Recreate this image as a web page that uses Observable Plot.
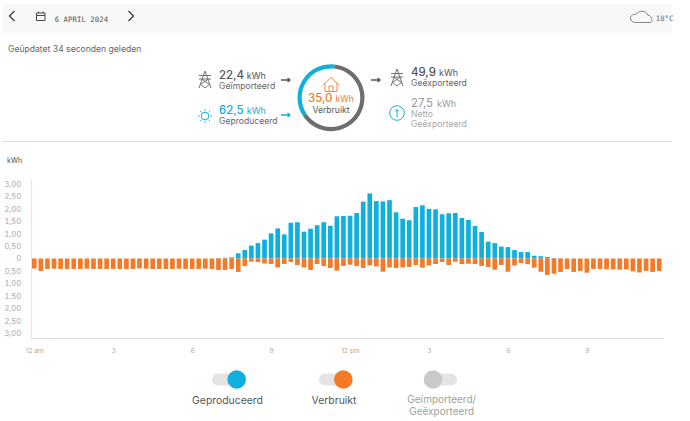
<!DOCTYPE html>
<html>
<head>
<meta charset="utf-8">
<script src="https://cdn.jsdelivr.net/npm/d3@7"></script>
<script src="https://cdn.jsdelivr.net/npm/@observablehq/plot@0.6"></script>
<style>
html,body{margin:0;padding:0;background:#fff;overflow:hidden}
#page{position:relative;width:690px;height:421px;font-family:Inter,"Open Sans",sans-serif}
#page svg{position:absolute;left:0}
</style>
</head>
<body>
<div id="page"></div>
<script>
const produced = [0,0,0,0,0,0,0,0,0,0,0,0,0,0,0,0,0,0,0,0,0,0,0,0,0,0,0,0,0.02,0.03,0.05,0.21,0.34,0.52,0.62,0.76,1.01,1.21,0.97,1.44,1.46,1.08,1.20,1.34,1.46,1.32,1.70,1.71,1.72,1.83,2.29,2.62,2.31,2.30,2.35,1.86,1.60,1.54,2.07,2.14,2.00,1.98,1.78,1.82,1.83,1.63,1.55,1.31,1.07,0.68,0.62,0.48,0.46,0.34,0.26,0.26,0.11,0.09,0.06,0.02,0.01,0,0,0,0,0,0,0,0,0,0,0,0,0,0,0];
const consumed = [0.40,0.50,0.42,0.41,0.42,0.42,0.42,0.42,0.41,0.42,0.42,0.42,0.42,0.42,0.43,0.42,0.40,0.41,0.42,0.42,0.42,0.42,0.41,0.42,0.42,0.42,0.41,0.42,0.46,0.46,0.42,0.54,0.30,0.13,0.14,0.20,0.22,0.36,0.22,0.14,0.26,0.36,0.46,0.22,0.30,0.38,0.49,0.30,0.25,0.30,0.38,0.28,0.32,0.53,0.36,0.38,0.36,0.34,0.26,0.37,0.28,0.22,0.14,0.26,0.13,0.22,0.21,0.22,0.30,0.34,0.45,0.26,0.53,0.28,0.18,0.23,0.37,0.53,0.66,0.61,0.54,0.42,0.54,0.50,0.57,0.42,0.42,0.44,0.44,0.45,0.44,0.52,0.56,0.50,0.54,0.50];
const yTicks = [-3,-2.5,-2,-1.5,-1,-0.5,0,0.5,1,1.5,2,2.5,3];
const xTicks = [0,12,24,36,48,60,72,84];
const xLabels = ["12 am","3","6","9","12 pm","3","6","9"];
const ringShares = [12.6, 22.4];

const BLUE="#10b0dc", ORANGE="#f47a27";
const rows = produced.map((v,i)=>({i,produced:v,consumed:consumed[i]}));
const fmtY = v => v===0 ? "0" : Math.abs(v).toFixed(2).replace(".",",");

const chart = Plot.plot({
  width:690, height:210,
  marginLeft:31, marginRight:27.5, marginTop:30, marginBottom:22,
  style:{background:"transparent",fontFamily:"Inter,'Open Sans',sans-serif"},
  x:{type:"band",domain:d3.range(96),paddingInner:0.29,paddingOuter:0.145,axis:null},
  y:{domain:[-3.2,3.16],axis:null},
  marks:[
    Plot.frame({anchor:"left",stroke:"#e6e6e6",strokeWidth:1.2}),
    Plot.frame({anchor:"bottom",stroke:"#dcdcdc",strokeWidth:1.2}),
    Plot.axisY({ticks:yTicks,tickSize:0,tickPadding:0,dx:-10.5,tickFormat:fmtY,fontSize:7.5,fill:"#a8a8a8",label:null,lineAnchor:"middle"}),
    Plot.axisX({ticks:xTicks,tickSize:0,tickPadding:10,tickFormat:d=>xLabels[xTicks.indexOf(d)],fontSize:6.5,fill:"#a8a8a8",label:null}),
    Plot.barY(rows,{x:"i",y1:0,y2:"produced",fill:BLUE}),
    Plot.barY(rows,{x:"i",y1:0,y2:d=>-d.consumed,fill:ORANGE})
  ]
});
chart.style.top="150px";

const page=d3.select("#page");
const s=page.append("svg").attr("width",690).attr("height",421).style("top","0px");
s.append("rect").attr("x",3).attr("y",4).attr("width",669).attr("height",29).attr("fill","#f8f8f8");
s.append("rect").attr("x",2).attr("y",141).attr("width",670).attr("height",1).attr("fill","#dedede");
page.node().appendChild(chart);

function T(x,y,t,o={}){
  return s.append("text").attr("x",x).attr("y",y).text(t)
    .attr("font-size",o.size||8.5).attr("fill",o.fill||"#666")
    .attr("font-weight",o.weight||400).attr("text-anchor",o.anchor||"start")
    .attr("font-family",o.family||"Inter,'Open Sans',sans-serif");
}
const P=(d,o={})=>s.append("path").attr("d",d).attr("fill",o.fill||"none").attr("stroke",o.stroke||"#555").attr("stroke-width",o.w||1);
const MONO="'DejaVu Sans Mono',monospace";

// top bar
T(54.7,21.5,"6 APRIL 2024",{family:MONO,size:7.4,fill:"#555"});
T(655.7,21,"18°C",{family:MONO,size:7.4,fill:"#666"});
P("M14.5 11 L9.5 16 L14.5 21",{stroke:"#333",w:1.2});
P("M128.5 11 L133.5 16 L128.5 21",{stroke:"#333",w:1.2});
P("M36.5 13 H45 V20.5 H36.5 Z M36.5 15.5 H45 M38.5 11.5 V13 M43 11.5 V13",{stroke:"#444",w:1});
P("M636 22.5 H650 C654 22.5 651 14 648 15.5 C647 11 639 9.5 636.5 14 C632 14 629 17 631 20 C632 22 634 22.5 636 22.5 Z",{stroke:"#777",w:0.9});
T(8,51.5,"Geüpdatet 34 seconden geleden",{size:8.6,fill:"#666"});

// left figures
T(219,79,"22,4",{size:11.4,weight:500,fill:"#555"});T(246.7,79,"kWh",{size:9,fill:"#555"});
T(219,88.5,"Geïmporteerd",{size:8.6});
T(219,114,"62,5",{size:11.4,weight:500,fill:BLUE});T(246.7,114,"kWh",{size:9,fill:BLUE});
T(219,123.5,"Geproduceerd",{size:8.6});
function tower(cx,cy){
  P(`M${cx} ${cy-9} L${cx-6} ${cy+8} M${cx} ${cy-9} L${cx+6} ${cy+8} M${cx-6} ${cy-4.5} H${cx+6} M${cx-6} ${cy-1} H${cx+6} M${cx-3.5} ${cy-1} L${cx+4.5} ${cy+4.5} M${cx+3.5} ${cy-1} L${cx-4.5} ${cy+4.5} M${cx-4.5} ${cy+4.5} L${cx} ${cy+8} L${cx+4.5} ${cy+4.5}`,{stroke:"#666",w:0.9});
}
tower(205,80);tower(397,78);
s.append("circle").attr("cx",205).attr("cy",116).attr("r",3.8).attr("fill","none").attr("stroke",BLUE);
d3.range(8).forEach(k=>{const a=k*Math.PI/4,c=Math.cos(a),n=Math.sin(a);P(`M${205+c*5.2} ${116+n*5.2} L${205+c*7} ${116+n*7}`,{stroke:BLUE,w:0.9});});
function arrow(x,y,c){P(`M${x} ${y} H${x+9} M${x+6.5} ${y-2} L${x+9} ${y} L${x+6.5} ${y+2}`,{stroke:c,w:1.3});}
arrow(281,80,"#555");arrow(281,115,BLUE);arrow(371,80,"#555");

// ring
const ringG=s.append("g").attr("transform","translate(331,97.7)");
const pie=d3.pie().sort(null).startAngle(-2.15).endAngle(2*Math.PI-2.15)(ringShares);
const arc=d3.arc().innerRadius(29.3).outerRadius(33.5);
ringG.selectAll("path").data(pie).join("path").attr("d",arc).attr("fill",(d,i)=>i?"#6e6e6e":BLUE);
P("M323 85 L331 77.5 L339 85 M325 83.5 V91.5 H337 V83.5 M329 91.5 V86 H333 V91.5",{stroke:ORANGE,w:0.9});
T(308,102,"35,0",{size:11.4,weight:500,fill:ORANGE});T(335.5,102,"kWh",{size:8.6,fill:ORANGE});
T(331,113,"Verbruikt",{size:8.6,anchor:"middle",fill:"#555"});

// right figures
T(411,76,"49,9",{size:11.4,weight:500,fill:"#555"});T(439,76,"kWh",{size:9,fill:"#555"});
T(411,86,"Geëxporteerd",{size:8.6});
T(411,107,"27,5",{size:11.4,fill:"#999"});T(437,107,"kWh",{size:9,fill:"#999"});
T(411,117,"Netto",{size:8.6,fill:"#a8a8a8"});
T(411,126.5,"Geëxporteerd",{size:8.6,fill:"#a8a8a8"});
s.append("circle").attr("cx",397).attr("cy",113).attr("r",7.3).attr("fill","none").attr("stroke",BLUE);
P("M397 117 V109.5 M395.3 111.5 L397 109.5 L398.7 111.5",{stroke:BLUE,w:1});

T(7,163,"kWh",{size:7.2,fill:"#555"});

// legend
function toggle(x0,x1,kx,col){
  s.append("rect").attr("x",x0).attr("y",373.5).attr("width",x1-x0).attr("height",12).attr("rx",6).attr("fill","#e4e4e4");
  s.append("circle").attr("cx",kx).attr("cy",379.5).attr("r",9.3).attr("fill",col);
}
toggle(212,245,236.7,BLUE);toggle(319,352,343.3,ORANGE);toggle(424,457,433,"#c9c9c9");
T(227.5,403.5,"Geproduceerd",{size:10.4,anchor:"middle",fill:"#555"});
T(334,403.5,"Verbruikt",{size:10.4,anchor:"middle",fill:"#555"});
T(441.7,403,"Geïmporteerd/",{size:10,anchor:"middle",fill:"#a0a0a0"});
T(441.7,414.5,"Geëxporteerd",{size:10,anchor:"middle",fill:"#a0a0a0"});
</script>
</body>
</html>
